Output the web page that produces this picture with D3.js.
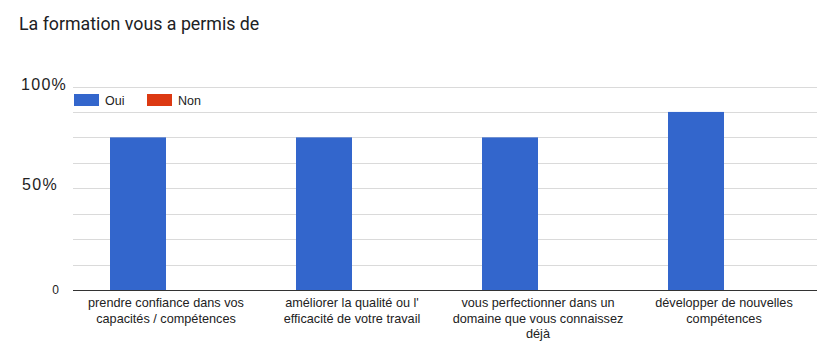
<!DOCTYPE html>
<html><head><meta charset="utf-8">
<script src="https://cdn.jsdelivr.net/npm/d3@7"></script>
<style>body{margin:0;background:#fff}svg{display:block}</style>
</head><body>
<svg id="c" width="825" height="350"></svg>
<script>
const categories = [
  ["prendre confiance dans vos", "capacités / compétences"],
  ["améliorer la qualité ou l'", "efficacité de votre travail"],
  ["vous perfectionner dans un", "domaine que vous connaissez", "déjà"],
  ["développer de nouvelles", "compétences"]
];
const seriesNames = ["Oui", "Non"];
const oui = [0.75, 0.75, 0.75, 0.875];
const non = [0, 0, 0, 0];
const yTickLabels = [[0, "0"], [0.5, "50%"], [1, "100%"]];
const gridValues = [0, 0.125, 0.25, 0.375, 0.5, 0.625, 0.75, 0.875, 1];
const colors = ["#3366cc", "#dc3912"];

(function () {
const svg = d3.select("#c");
const mLeft = 73, mRight = 817, mTop = 86.5, mBottom = 290;
const x = d3.scaleBand().domain(d3.range(categories.length)).range([mLeft, mRight]).paddingInner(0).paddingOuter(0);
const y = d3.scaleLinear().domain([0, 1]).range([mBottom, mTop]);
const groupW = x.bandwidth();
const x1 = d3.scaleBand().domain(seriesNames).range([37, groupW - 37]);

svg.append("text").attr("x", 19).attr("y", 30)
  .attr("font-family", "Roboto, Arial, sans-serif").attr("font-size", 17.8)
  .attr("fill", "#202124").text("La formation vous a permis de");

svg.append("g").selectAll("line").data(gridValues.filter(d => d > 0)).join("line")
  .attr("x1", mLeft).attr("x2", mRight)
  .attr("y1", d => Math.round(y(d)) + 0.5).attr("y2", d => Math.round(y(d)) + 0.5)
  .attr("stroke", "#dadada").attr("stroke-width", 1);

const yl = svg.append("g").attr("font-family", "Arial, 'Liberation Sans', sans-serif").attr("fill", "#222");
const yOff = {0: 4, 0.5: 1.5, 1: 3.5};
yl.selectAll("text").data(yTickLabels).join("text")
  .attr("x", d => d[0] === 0 ? 59 : (d[0] === 1 ? 21 : 22))
  .attr("text-anchor", d => d[0] === 0 ? "end" : "start")
  .attr("y", d => y(d[0]) + yOff[d[0]])
  .attr("font-size", d => d[0] === 0 ? 12 : 16)
  .attr("letter-spacing", d => d[0] === 0 ? 0 : 1.3)
  .text(d => d[1]);

const series = [oui, non];
const g = svg.append("g");
series.forEach((vals, si) => {
  g.selectAll(".s" + si).data(vals).join("rect").attr("class", "s" + si)
    .attr("x", (d, i) => x(i) + x1(seriesNames[si]))
    .attr("width", x1.bandwidth())
    .attr("y", d => y(d))
    .attr("height", d => y(0) - y(d))
    .attr("fill", colors[si]);
});

svg.append("line").attr("x1", mLeft).attr("x2", mRight).attr("y1", mBottom + 0.5).attr("y2", mBottom + 0.5)
  .attr("stroke", "#333").attr("stroke-width", 1);

const xl = svg.append("g").attr("font-family", "Arial, 'Liberation Sans', sans-serif")
  .attr("font-size", 12.7).attr("fill", "#222").attr("text-anchor", "middle");
categories.forEach((lines, i) => {
  const t = xl.append("text").attr("x", x(i) + groupW / 2).attr("y", 307);
  lines.forEach((l, j) => t.append("tspan").attr("x", x(i) + groupW / 2).attr("dy", j === 0 ? 0 : 15.7).text(l));
});

const lg = svg.append("g").attr("font-family", "Arial, 'Liberation Sans', sans-serif").attr("font-size", 12.5).attr("fill", "#222");
const legX = [74, 147];
seriesNames.forEach((n, i) => {
  lg.append("rect").attr("x", legX[i]).attr("y", 94).attr("width", 25).attr("height", 12).attr("fill", colors[i]);
  lg.append("text").attr("x", legX[i] + 31).attr("y", 104.5).text(n);
});
})();
</script>
</body></html>
